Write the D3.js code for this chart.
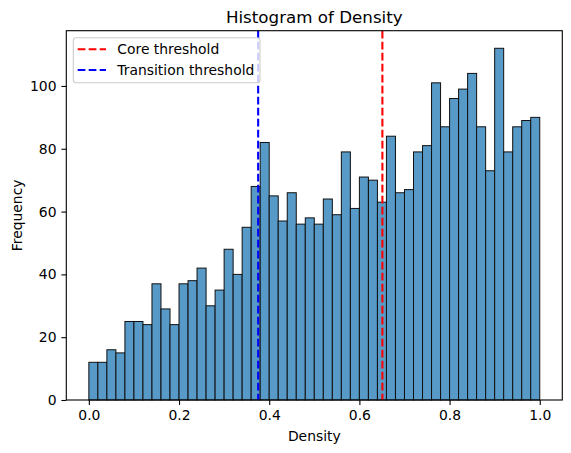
<!DOCTYPE html>
<html>
<head>
<meta charset="utf-8">
<script src="https://cdn.jsdelivr.net/npm/d3@7"></script>
<style>
  body { margin: 0; background: #fff; }
  text { font-family: "DejaVu Sans", sans-serif; fill: #000; }
</style>
</head>
<body>
<svg id="chart" width="571" height="453"></svg>
<script>
// histogram counts, 50 equal bins over [0, 1]
const binStart = 0, binEnd = 1
const counts = [12, 12, 16, 15, 25, 25, 24, 37, 29, 24,
                37, 38, 42, 30, 35, 48, 40, 55, 68, 82,
                65, 57, 66, 56, 58, 56, 64, 59, 79, 61,
                71, 70, 63, 84, 66, 67, 79, 81, 101, 87,
                96, 99, 104, 87, 73, 112, 79, 87, 89, 90]
const xTicks = [0, 0.2, 0.4, 0.6, 0.8, 1.0]
const yTicks = [0, 20, 40, 60, 80, 100]
const thresholds = [
  { name: 'Core threshold', value: 0.651, color: 'red' },
  { name: 'Transition threshold', value: 0.3755, color: 'blue' }
]

const binW = (binEnd - binStart) / counts.length
const bins = counts.map((c, i) => ({ x0: binStart + i * binW, x1: binStart + (i + 1) * binW, n: c }))

const svg = d3.select('#chart')
const m = { left: 66.3, right: 562.3, top: 30.7, bottom: 400 }

const x = d3.scaleLinear().domain([-0.05, 1.05]).range([m.left, m.right])
const y = d3.scaleLinear().domain([0, d3.max(counts) * 1.05]).range([m.bottom, m.top])

// bars
svg.append('g')
  .selectAll('rect')
  .data(bins)
  .enter()
  .append('rect')
  .attr('x', d => x(d.x0))
  .attr('y', d => y(d.n))
  .attr('width', d => x(d.x1) - x(d.x0))
  .attr('height', d => y(0) - y(d.n))
  .style('fill', '#5799c7')
  .style('stroke', '#111')
  .style('stroke-width', 1)

// threshold lines
svg.append('g')
  .selectAll('line')
  .data(thresholds)
  .enter()
  .append('line')
  .attr('x1', d => x(d.value))
  .attr('x2', d => x(d.value))
  .attr('y1', m.top)
  .attr('y2', m.bottom)
  .style('stroke', d => d.color)
  .style('stroke-width', 2.08)
  .style('stroke-dasharray', '7.7,3.3')

// axes
const xAxis = d3.axisBottom(x).tickValues(xTicks).tickFormat(d3.format('.1f')).tickSize(4.9).tickPadding(4.9)
const yAxis = d3.axisLeft(y).tickValues(yTicks).tickFormat(d3.format('d')).tickSize(4.9).tickPadding(4.9)

const gx = svg.append('g').attr('transform', `translate(0,${m.bottom})`).call(xAxis)
const gy = svg.append('g').attr('transform', `translate(${m.left},0)`).call(yAxis)
;[gx, gy].forEach(g => {
  g.select('.domain').remove()
  g.selectAll('line').style('stroke', '#000').style('stroke-width', 1.1)
  g.selectAll('text').style('font-size', '13.9px').style('font-family', '"DejaVu Sans", sans-serif')
})

// frame
svg.append('rect')
  .attr('x', m.left).attr('y', m.top)
  .attr('width', m.right - m.left).attr('height', m.bottom - m.top)
  .style('fill', 'none').style('stroke', '#000').style('stroke-width', 1.1)

// labels
svg.append('text').attr('x', (m.left + m.right) / 2).attr('y', 22.5)
  .attr('text-anchor', 'middle').style('font-size', '16.7px').text('Histogram of Density')
svg.append('text').attr('x', (m.left + m.right) / 2).attr('y', 440.5)
  .attr('text-anchor', 'middle').style('font-size', '13.9px').text('Density')
svg.append('text').attr('transform', `translate(22,${(m.top + m.bottom) / 2}) rotate(-90)`)
  .attr('text-anchor', 'middle').style('font-size', '13.9px').text('Frequency')

// legend
const lg = svg.append('g')
lg.append('rect')
  .attr('x', 73.3).attr('y', 37.7).attr('width', 186.7).attr('height', 45)
  .attr('rx', 2.8)
  .style('fill', 'rgba(255,255,255,0.8)').style('stroke', '#ccc').style('stroke-width', 1.1)
const item = lg.selectAll('g.item')
  .data(thresholds)
  .enter()
  .append('g')
  .attr('class', 'item')
  .attr('transform', (d, i) => `translate(0,${49.3 + i * 20.7})`)
item.append('line')
  .attr('x1', 77.7).attr('x2', 106).attr('y1', 0).attr('y2', 0)
  .style('stroke', d => d.color).style('stroke-width', 2.08)
  .style('stroke-dasharray', '7.7,3.3')
item.append('text')
  .attr('x', 117.3).attr('y', 5)
  .style('font-size', '13.9px')
  .text(d => d.name)
</script>
</body>
</html>
